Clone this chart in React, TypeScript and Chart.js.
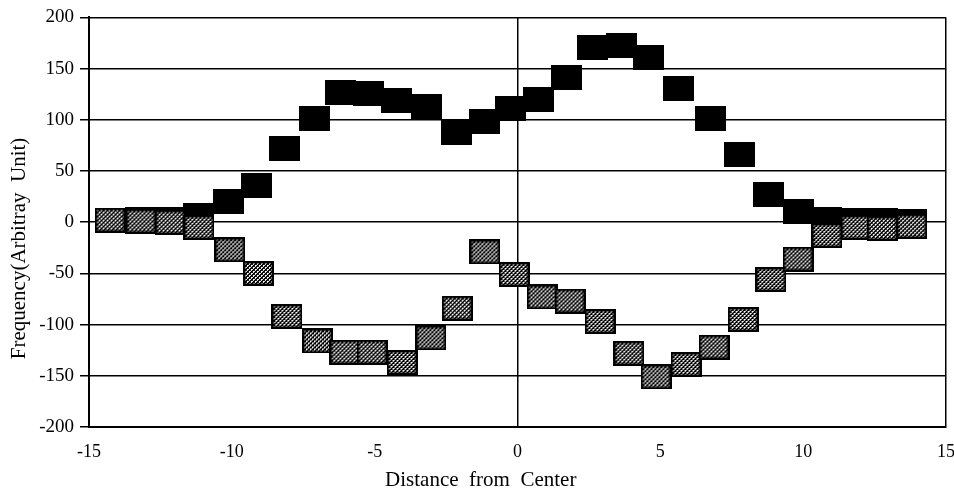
import React, { useEffect, useRef } from 'react';
import { Chart, registerables } from 'chart.js';

Chart.register(...registerables);

// Upper (solid black) series
const upperX = [-14.26, -13.18, -12.16, -11.15, -10.13, -9.12, -8.14, -7.1, -6.18, -5.2, -4.22, -3.17, -2.15, -1.15, -0.24, 0.74, 1.7, 2.63, 3.65, 4.6, 5.64, 6.76, 7.76, 8.77, 9.82, 10.83, 11.85, 12.77, 13.8];
const upperY = [2, 3, 3, 7, 20, 36, 72, 101, 127, 126, 119, 113, 88, 98, 111, 120, 141, 171, 173, 161, 131, 101, 66, 27, 10, 3, 2, 2, 1];

// Lower (cross-hatched) series
const lowerX = [-14.26, -13.18, -12.16, -11.15, -10.07, -9.07, -8.07, -7.0, -6.04, -5.09, -4.04, -3.03, -2.11, -1.14, -0.12, 0.86, 1.84, 2.89, 3.9, 4.85, 5.9, 6.88, 7.9, 8.87, 9.82, 10.83, 11.85, 12.77, 13.8];
const lowerY = [2, 1, 0, -5, -27, -50, -92, -116, -127, -127, -137, -113, -84, -29, -51, -73, -77, -97, -128, -151, -139, -122, -95, -56, -36, -13, -5, -6, -4];

const xMajor = [-15, 0, 15];
const xTitle = 'Distance  from  Center';
const yTitle = 'Frequency(Arbitray  Unit)';

const FONT = "'Liberation Serif', 'Times New Roman', serif";

function makeBlock(hatched: boolean): HTMLCanvasElement {
  const w = 31;
  const h = 25;
  const c = document.createElement('canvas');
  c.width = w;
  c.height = h;
  const g = c.getContext('2d')!;
  if (!hatched) {
    g.fillStyle = '#000';
    g.fillRect(0, 0, w, h);
    return c;
  }
  const tile = document.createElement('canvas');
  tile.width = 4;
  tile.height = 4;
  const t = tile.getContext('2d')!;
  t.fillStyle = '#000';
  t.fillRect(0, 0, 4, 4);
  t.fillStyle = '#fff';
  [[0, 0], [1, 0], [0, 1], [2, 2], [3, 2], [2, 3]].forEach(([x, y]) => t.fillRect(x, y, 1, 1));
  g.fillStyle = g.createPattern(tile, 'repeat')!;
  g.fillRect(0, 0, w, h);
  g.strokeStyle = '#000';
  g.lineWidth = 2.5;
  g.strokeRect(1.25, 1.25, w - 2.5, h - 2.5);
  return c;
}

export default function App() {
  const ref = useRef<HTMLCanvasElement>(null);

  useEffect(() => {
    document.body.style.margin = '0';
    const black = makeBlock(false);
    const hatched = makeBlock(true);
    const chart = new Chart(ref.current!, {
      type: 'scatter',
      data: {
        datasets: [
          {
            label: 'lower',
            data: lowerX.map((x, i) => ({ x, y: lowerY[i] })),
            pointStyle: hatched as any,
            pointRadius: 15,
            showLine: false,
            order: 1,
          },
          {
            label: 'upper',
            data: upperX.map((x, i) => ({ x, y: upperY[i] })),
            pointStyle: black as any,
            pointRadius: 15,
            showLine: false,
            order: 2,
          },
        ],
      },
      options: {
        responsive: false,
        animation: false,
        events: [],
        layout: { autoPadding: false, padding: { top: 16, right: 8, left: 0, bottom: 0 } },
        plugins: { legend: { display: false }, tooltip: { enabled: false } },
        scales: {
          x: {
            type: 'linear',
            min: -15,
            max: 15,
            afterFit: (s: any) => {
              s.height = 71;
              s.paddingRight = 0;
              s.paddingLeft = 0;
            },
            ticks: {
              stepSize: 5,
              color: '#000',
              font: { family: FONT, size: 18 },
              padding: 14,
              maxRotation: 0,
              autoSkip: false,
            },
            grid: {
              color: (c: any) => (xMajor.includes(c.tick?.value) ? '#000' : 'rgba(0,0,0,0)'),
              lineWidth: 1.5,
              drawTicks: false,
            },
            border: { color: '#000', width: 2 },
            title: {
              display: true,
              text: xTitle + '              ',
              color: '#000',
              font: { family: FONT, size: 21 },
              padding: { top: 0, bottom: 5 },
            },
          },
          y: {
            min: -200,
            max: 200,
            afterFit: (s: any) => { s.width = 89; },
            ticks: {
              stepSize: 25,
              color: '#000',
              font: { family: FONT, size: 19 },
              padding: 6,
              callback: (v: any) => (Number(v) % 50 === 0 ? String(v) : ''),
            },
            grid: {
              color: (c: any) => (c.tick && c.tick.value % 50 === 0 ? '#000' : 'rgba(0,0,0,0)'),
              tickColor: '#000',
              tickLength: 9,
              lineWidth: 1.5,
            },
            border: { color: '#000', width: 2 },
            title: {
              display: true,
              text: yTitle + '          ',
              color: '#000',
              font: { family: FONT, size: 21 },
              padding: { top: 7, bottom: 0 },
            },
          },
        },
      },
    });
    return () => chart.destroy();
  }, []);

  return <canvas ref={ref} width={954} height={498} style={{ display: 'block' }} />;
}
